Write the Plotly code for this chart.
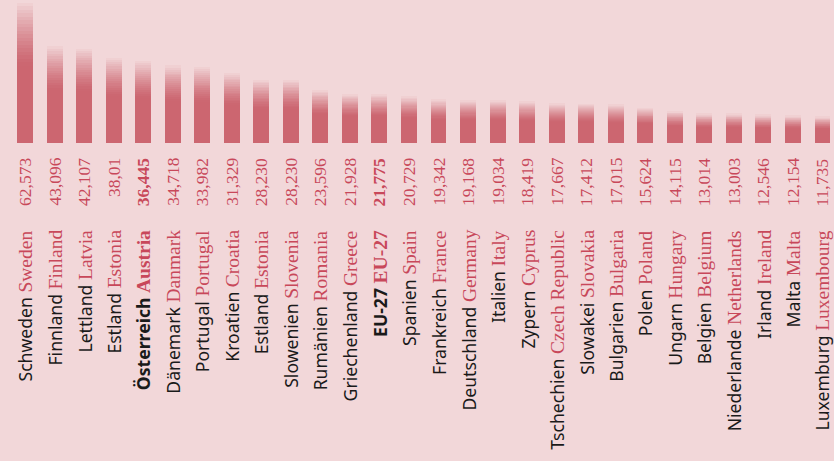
import plotly.graph_objects as go

names_de = ["Schweden", "Finnland", "Lettland", "Estland", "Österreich", "Dänemark", "Portugal",
            "Kroatien", "Estland", "Slowenien", "Rumänien", "Griechenland", "EU-27", "Spanien",
            "Frankreich", "Deutschland", "Italien", "Zypern", "Tschechien", "Slowakei", "Bulgarien",
            "Polen", "Ungarn", "Belgien", "Niederlande", "Irland", "Malta", "Luxemburg"]
names_en = ["Sweden", "Finland", "Latvia", "Estonia", "Austria", "Danmark", "Portugal",
            "Croatia", "Estonia", "Slovenia", "Romania", "Greece", "EU-27", "Spain",
            "France", "Germany", "Italy", "Cyprus", "Czech Republic", "Slovakia", "Bulgaria",
            "Poland", "Hungary", "Belgium", "Netherlands", "Ireland", "Malta", "Luxembourg"]
values = [62.573, 43.096, 42.107, 38.01, 36.445, 34.718, 33.982, 31.329, 28.230, 28.230,
          23.596, 21.928, 21.775, 20.729, 19.342, 19.168, 19.034, 18.419, 17.667, 17.412,
          17.015, 15.624, 14.115, 13.014, 13.003, 12.546, 12.154, 11.735]
value_labels = ["62,573", "43,096", "42,107", "38,01", "36,445", "34,718", "33,982", "31,329",
                "28,230", "28,230", "23,596", "21,928", "21,775", "20,729", "19,342", "19,168",
                "19,034", "18,419", "17,667", "17,412", "17,015", "15,624", "14,115", "13,014",
                "13,003", "12,546", "12,154", "11,735"]
highlight = ["Österreich", "EU-27"]

BG = (242, 215, 217)
BAR = (204, 102, 112)
RED = "#c8485a"
BLACK = "#1a1a1a"
SANS = "Noto Sans"
SERIF = "Liberation Serif"

x = list(range(len(values)))
N = 40
fig = go.Figure()
for k in range(N):
    t = (k + 0.5) / N
    if t < 0.55:
        f = 0.0
    else:
        f = ((t - 0.55) / 0.45) ** 1.3 * 0.97
    c = tuple(round(BAR[i] + (BG[i] - BAR[i]) * f) for i in range(3))
    fig.add_trace(go.Bar(
        x=x, y=[v / N for v in values],
        marker=dict(color="rgb(%d,%d,%d)" % c, line=dict(width=0)),
        hoverinfo="skip", showlegend=False,
    ))

for i, (de, en, vl) in enumerate(zip(names_de, names_en, value_labels)):
    bold = de in highlight
    vtxt = f"<b>{vl}</b>" if bold else vl
    fig.add_annotation(
        x=i, xref="x", y=0, yref="paper", yanchor="top", xanchor="center",
        yshift=-13, textangle=-90, showarrow=False, text=vtxt,
        font=dict(family=SERIF, size=17.5, color=RED),
    )
    en_span = f"<span style='font-family:{SERIF};font-size:19.5px;color:{RED}'>{en}</span>"
    if bold:
        ntxt = f"<b>{de}</b> <b>{en_span}</b>"
    else:
        ntxt = f"{de} {en_span}"
    fig.add_annotation(
        x=i, xref="x", y=0, yref="paper", yanchor="top", xanchor="center",
        yshift=-85, textangle=-90, showarrow=False, text=ntxt,
        font=dict(family=SANS, size=17.6, color=BLACK),
    )

fig.update_layout(
    barmode="stack", bargap=0.46,
    width=834, height=461,
    margin=dict(l=0, r=0, t=0, b=318),
    paper_bgcolor="rgb(%d,%d,%d)" % BG, plot_bgcolor="rgb(%d,%d,%d)" % BG,
    xaxis=dict(range=[-0.846, 27.39], showticklabels=False, showgrid=False, zeroline=False,
               fixedrange=True),
    yaxis=dict(range=[0, 63.85], showticklabels=False, showgrid=False, zeroline=False,
               fixedrange=True),
    hovermode=False,
)

fig.write_html("out.html", config={"displayModeBar": False},
               post_script="document.body.style.margin='0';document.body.style.overflow='hidden';")
